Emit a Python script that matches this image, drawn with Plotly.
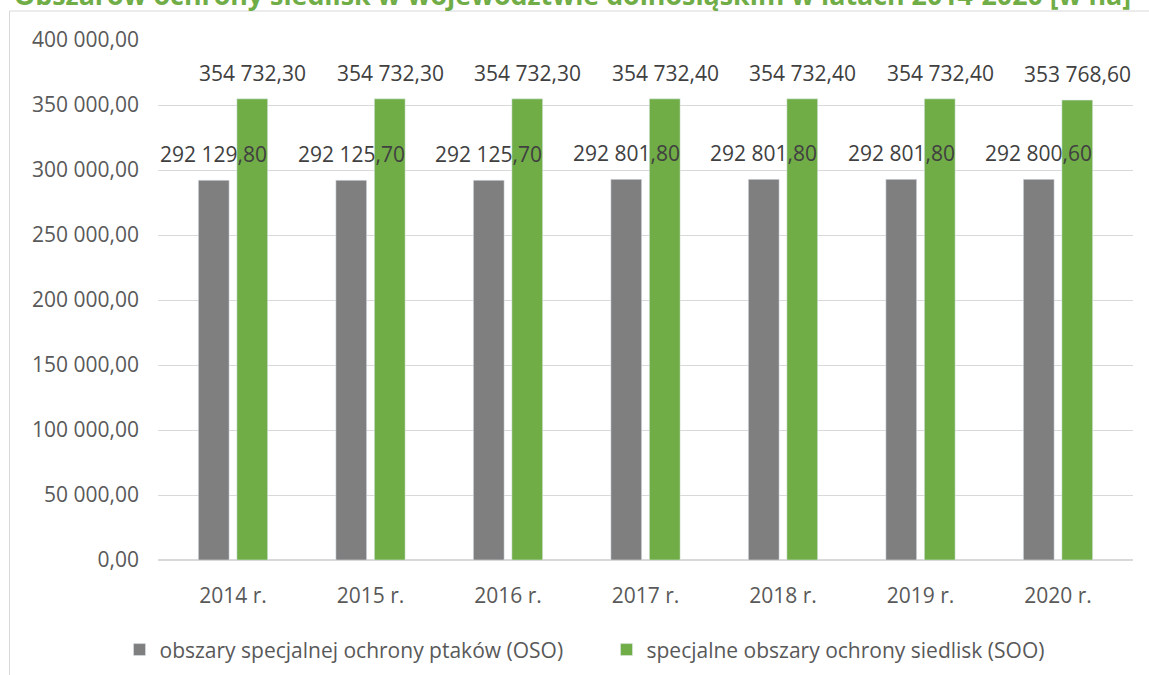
"""Obszary Natura 2000 w woj. dolnośląskim, 2014-2020."""

import plotly.graph_objects as go

# Data
years = ["2014 r.", "2015 r.", "2016 r.", "2017 r.", "2018 r.", "2019 r.", "2020 r."]
oso = [292129.80, 292125.70, 292125.70, 292801.80, 292801.80, 292801.80, 292800.60]
soo = [354732.30, 354732.30, 354732.30, 354732.40, 354732.40, 354732.40, 353768.60]
oso_name = "obszary specjalnej ochrony ptaków (OSO)"
soo_name = "specjalne obszary ochrony siedlisk (SOO)"
title = "Obszarów ochrony siedlisk w województwie dolnośląskim w latach 2014-2020 [w ha]"
y_ticks = [0, 50000, 100000, 150000, 200000, 250000, 300000, 350000, 400000]

FONT = "Open Sans"
GREY = "#7F7F7F"
GREEN = "#70AD47"


def fmt(v):
    """Polish number format: 292 129,80"""
    return f"{v:,.2f}".replace(",", " ").replace(".", ",")


fig = go.Figure()
fig.add_trace(go.Bar(x=years, y=oso, name=oso_name, marker_color=GREY))
fig.add_trace(go.Bar(x=years, y=soo, name=soo_name, marker_color=GREEN))

# data labels above each bar
for values, shift in ((oso, -19.5), (soo, 19.5)):
    for cat, v in zip(years, values):
        fig.add_annotation(x=cat, y=v, text=fmt(v), showarrow=False,
                           xshift=shift, yshift=10, yanchor="bottom",
                           font=dict(family=FONT, size=21, color="#404040"))

# title, cut off at the top of the picture (as in the source image)
fig.add_annotation(xref="paper", yref="paper", x=(572 - 158) / 975, y=1, yshift=45.5,
                   xanchor="center", yanchor="middle", text="<b>" + title + "</b>",
                   showarrow=False, font=dict(family=FONT, size=26.8, color=GREEN))

# chart area border
fig.add_shape(type="rect", xref="paper", yref="paper",
              x0=(9.5 - 158) / 975, x1=1.03, y0=-0.3, y1=(560 - 11) / 520,
              line=dict(color="#D9D9D9", width=1), fillcolor="rgba(0,0,0,0)")

fig.update_layout(
    width=1149, height=675,
    margin=dict(l=158, r=16, t=40, b=115, autoexpand=False),
    paper_bgcolor="white", plot_bgcolor="white",
    separators=", ",
    barmode="group", bargap=0.44, bargroupgap=0.2,
    font=dict(family=FONT, size=21, color="#595959"),
    showlegend=True,
    legend=dict(orientation="h", x=0.460, xanchor="center", y=-0.173, yanchor="middle",
                entrywidth=442, font=dict(family=FONT, size=21, color="#595959")),
)
fig.update_xaxes(showline=True, linecolor="#D9D9D9", linewidth=1, ticks="",
                 automargin=False,
                 ticklabelstandoff=17, tickfont=dict(size=21, color="#595959"))
fig.update_yaxes(range=[0, 400000], tickvals=y_ticks, tickformat=",.2f",
                 showgrid=True, gridcolor="#D9D9D9", gridwidth=1,
                 zeroline=True, zerolinecolor="#D9D9D9", automargin=False,
                 ticklabelstandoff=18, tickfont=dict(size=21, color="#595959"))

# drop the browser's default 8px page margin so the chart sits at the top-left corner
fig.write_html("out.html", config={"displayModeBar": False},
               post_script="document.body.style.margin = '0';")
